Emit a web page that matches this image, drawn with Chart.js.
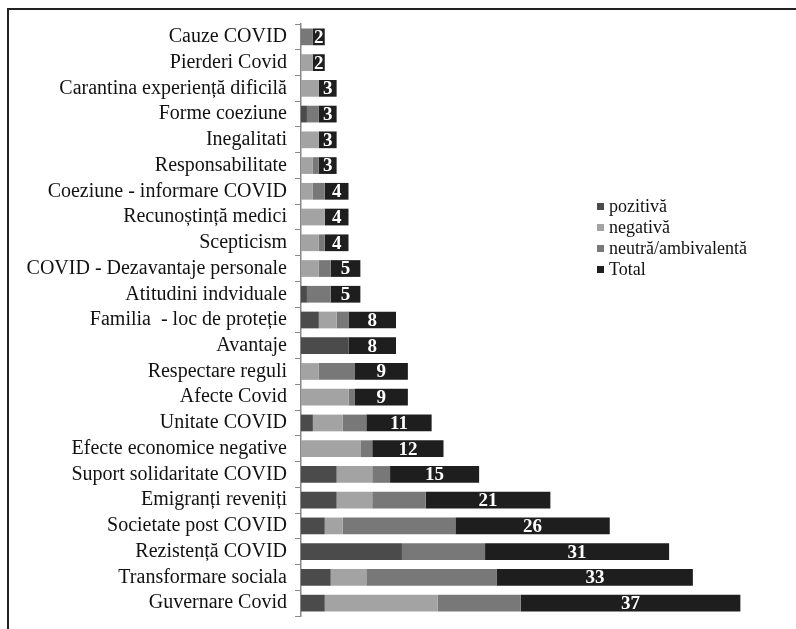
<!DOCTYPE html>
<html>
<head>
<meta charset="utf-8">
<script src="https://cdn.jsdelivr.net/npm/chart.js@4.4.1/dist/chart.umd.min.js"></script>
<style>
  html, body { margin: 0; padding: 0; background: #fff; }
  #frame {
    position: absolute; left: 7px; top: 8px; right: 0; bottom: 0;
    border-left: 2px solid #222; border-top: 2px solid #222;
    overflow: hidden;
  }
  #myChart { position: absolute; left: -9px; top: -10px; }
</style>
</head>
<body>
<div id="frame"><canvas id="myChart" width="796" height="629"></canvas></div>
<script>
// categorii (de sus in jos)
const categorii = ['Cauze COVID', 'Pierderi Covid', 'Carantina experiență dificilă', 'Forme coeziune',
    'Inegalitati', 'Responsabilitate', 'Coeziune - informare COVID', 'Recunoștință medici', 'Scepticism',
    'COVID - Dezavantaje personale', 'Atitudini indviduale', 'Familia  - loc de proteție', 'Avantaje',
    'Respectare reguli', 'Afecte Covid', 'Unitate COVID', 'Efecte economice negative',
    'Suport solidaritate COVID', 'Emigranți reveniți', 'Societate post COVID', 'Rezistență COVID',
    'Transformare sociala', 'Guvernare Covid']

// valorile seriilor
const pozitiva = [0, 0, 0, 1, 0, 0, 0, 0, 0, 0, 1, 3, 8, 0, 0, 2, 0, 6, 6, 4, 17, 5, 4]
const negativa = [0, 2, 3, 0, 3, 2, 2, 4, 3, 3, 0, 3, 0, 3, 8, 5, 10, 6, 6, 3, 0, 6, 19]
const neutra = [2, 0, 0, 2, 0, 1, 2, 0, 1, 2, 4, 2, 0, 6, 1, 4, 2, 3, 9, 19, 14, 22, 14]
const total = [2, 2, 3, 3, 3, 3, 4, 4, 4, 5, 5, 8, 8, 9, 9, 11, 12, 15, 21, 26, 31, 33, 37]

const serif = "'Liberation Serif', 'Times New Roman', serif"

// etichete albe pe segmentul Total
const etichete = {
    id: 'etichete',
    afterDatasetsDraw(chart) {
        const ctx = chart.ctx
        const meta = chart.getDatasetMeta(3)
        ctx.save()
        ctx.fillStyle = '#fff'
        ctx.font = 'bold 19px ' + serif
        ctx.textAlign = 'center'
        ctx.textBaseline = 'middle'
        meta.data.forEach((bar, i) => {
            ctx.fillText(total[i], (bar.x + bar.base) / 2, bar.y + 1)
        })
        ctx.restore()
    }
}

// legenda desenata in zona graficului
const legenda = {
    id: 'legenda',
    afterDraw(chart) {
        const ctx = chart.ctx
        ctx.save()
        ctx.font = '18px ' + serif
        ctx.textBaseline = 'middle'
        chart.data.datasets.forEach((ds, i) => {
            const y = 207 + i * 21
            ctx.fillStyle = ds.backgroundColor
            ctx.fillRect(597, y - 4, 7, 7)
            ctx.fillStyle = '#111'
            ctx.fillText(ds.label, 609, y)
        })
        ctx.restore()
    }
}

const ctx = document.getElementById('myChart')
new Chart(ctx, {
    type: 'bar',
    data: {
        labels: categorii,
        datasets: [
            { label: 'pozitivă', data: pozitiva, backgroundColor: '#4b4b4b' },
            { label: 'negativă', data: negativa, backgroundColor: '#a3a3a3' },
            { label: 'neutră/ambivalentă', data: neutra, backgroundColor: '#787878' },
            { label: 'Total', data: total, backgroundColor: '#1e1e1e' }
        ]
    },
    options: {
        indexAxis: 'y',
        responsive: false,
        animation: false,
        devicePixelRatio: 1,
        datasets: { bar: { categoryPercentage: 1, barPercentage: 0.65 } },
        layout: { padding: { top: 24, bottom: 13, right: 20, left: 0 } },
        plugins: {
            legend: { display: false },
            tooltip: { enabled: false }
        },
        scales: {
            x: { stacked: true, display: false, min: 0, max: 80 },
            y: {
                stacked: true,
                afterFit(scale) {
                    scale.width = 301
                    scale.paddingTop = 0
                    scale.paddingBottom = 0
                },
                grid: { drawOnChartArea: false, tickLength: 6, color: '#888', offset: true },
                border: { color: '#888', width: 1.5 },
                ticks: { color: '#111', padding: 8, autoSkip: false, font: { family: serif, size: 20 } }
            }
        }
    },
    plugins: [etichete, legenda]
})
</script>
</body>
</html>
